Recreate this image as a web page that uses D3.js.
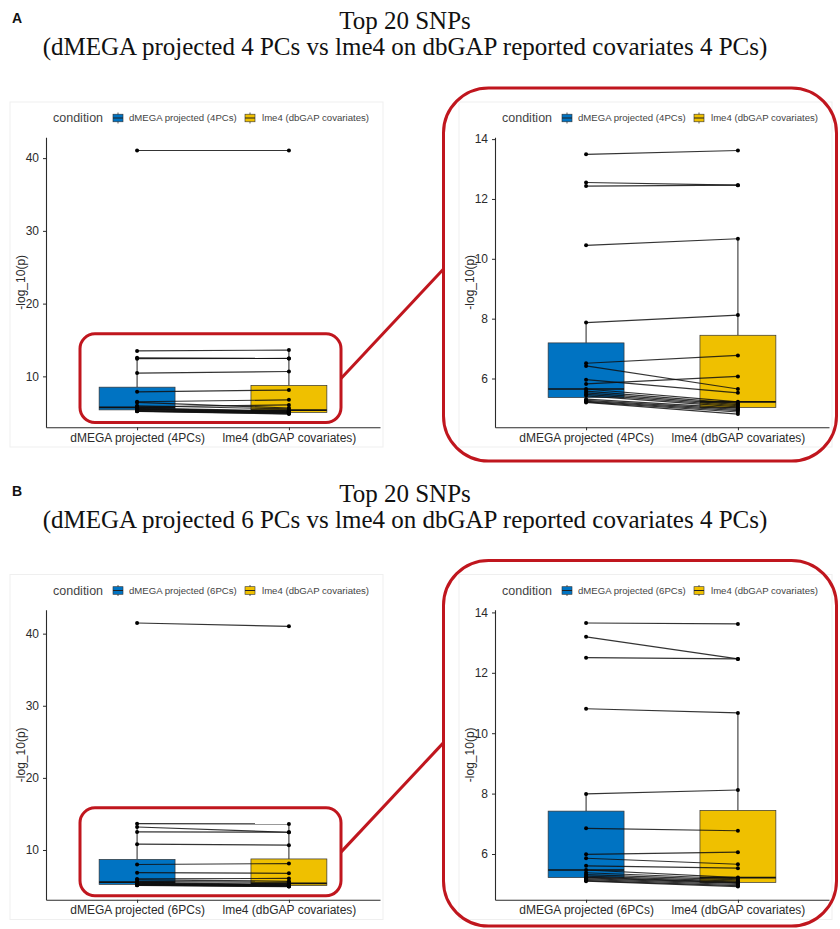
<!DOCTYPE html>
<html><head><meta charset="utf-8">
<script src="https://cdn.jsdelivr.net/npm/d3@7"></script>
<style>body{margin:0;background:#fff} svg{display:block}</style>
</head><body>
<svg id="fig" width="840" height="929"></svg>
<script>
// -log10(p) of the top 20 SNPs, one entry per SNP (same order in each pair of arrays)
const categoriesA = ["dMEGA projected (4PCs)", "lme4 (dbGAP covariates)"];
const categoriesB = ["dMEGA projected (6PCs)", "lme4 (dbGAP covariates)"];
const dmegaA = [41.05, 13.49, 12.55, 12.43, 10.45, 7.87, 6.51, 6.42, 5.96, 5.82, 5.65, 5.58, 5.52, 5.47, 5.42, 5.31, 5.27, 5.24, 5.22, 5.20];
const lme4A  = [41.05, 13.62, 12.46, 12.46, 10.67, 8.12, 6.77, 5.65, 5.52, 6.07, 5.22, 5.17, 5.13, 5.09, 5.05, 5.01, 4.97, 4.93, 4.88, 4.81];
const dmegaB = [41.48, 13.65, 13.19, 12.50, 10.81, 7.99, 6.85, 5.99, 5.86, 5.61, 5.47, 5.38, 5.32, 5.27, 5.23, 5.21, 5.18, 5.15, 5.12, 5.10];
const lme4B  = [41.02, 13.62, 12.46, 12.46, 10.67, 8.12, 6.77, 6.06, 5.66, 5.53, 5.22, 5.18, 5.14, 5.10, 5.07, 5.05, 5.03, 4.99, 4.95, 4.92];
const ticksFull = [10, 20, 30, 40];
const ticksZoom = [6, 8, 10, 12, 14];
const zoomCutoff = 20;          // the zoomed view leaves out the SNP above this value
const titleA = ["Top 20 SNPs", "(dMEGA projected 4 PCs vs lme4 on dbGAP reported covariates 4 PCs)"];
const titleB = ["Top 20 SNPs", "(dMEGA projected 6 PCs vs lme4 on dbGAP reported covariates 4 PCs)"];
const panelLetters = ["A", "B"];
const fills = ["#0073C2", "#EFC000"];

const svg = d3.select("#fig");
const SANS = "'Liberation Sans', Arial, sans-serif";
const SERIF = "'Liberation Serif', 'Times New Roman', serif";
const RED = "#c0161e";
const AXIS = "#2b2b2b";

function boxStats(vals) {
  const s = vals.slice().sort(d3.ascending);
  const q1 = d3.quantile(s, 0.25), med = d3.quantile(s, 0.5), q3 = d3.quantile(s, 0.75);
  const iqr = q3 - q1;
  const hiW = d3.max(s.filter(v => v <= q3 + 1.5 * iqr));
  const loW = d3.min(s.filter(v => v >= q1 - 1.5 * iqr));
  return {q1, med, q3, hiW, loW};
}

function drawPanel(g, o) {
  const plotL = o.left, plotR = o.left + 334, plotT = 137.3, plotB = 427.3;
  const keep = i => !o.zoom || (o.dm[i] < zoomCutoff && o.lm[i] < zoomCutoff);
  const idx = d3.range(o.dm.length).filter(keep);
  const dm = idx.map(i => o.dm[i]), lm = idx.map(i => o.lm[i]);
  const groups = [dm, lm];

  // light frame around each plot image
  g.append("rect").attr("x", plotL - 36).attr("y", 102).attr("width", 373).attr("height", 345)
    .attr("fill", "none").attr("stroke", "#efefef").attr("stroke-width", 1);

  const x = d3.scalePoint().domain(o.cats).range([plotL, plotR]).padding(0.6);
  const [lo, hi] = d3.extent(dm.concat(lm));
  const pad = (hi - lo) * 0.05;
  const y = d3.scaleLinear().domain([lo - pad, hi + pad]).range([plotB, plotT]);
  const bw = x.step() * 0.5;

  // axes
  const ya = g.append("g").attr("transform", `translate(${plotL},0)`)
    .call(d3.axisLeft(y).tickValues(o.ticks).tickSize(3).tickSizeOuter(0).tickPadding(4));
  const xa = g.append("g").attr("transform", `translate(0,${plotB})`)
    .call(d3.axisBottom(x).tickSize(3).tickSizeOuter(0).tickPadding(3));
  [ya, xa].forEach(a => {
    a.select(".domain").attr("stroke", AXIS).attr("stroke-width", 1.1);
    a.selectAll(".tick line").attr("stroke", AXIS);
    a.selectAll("text").attr("font-family", SANS).attr("font-size", 12).attr("fill", AXIS);
  });

  g.append("text").attr("transform", `translate(${plotL - 21},${(plotT + plotB) / 2}) rotate(-90)`)
    .attr("text-anchor", "middle").attr("font-family", SANS).attr("font-size", 12)
    .attr("fill", AXIS).text("-log_10(p)");

  // boxplots
  groups.forEach((vals, k) => {
    const st = boxStats(vals);
    const cx = x(o.cats[k]);
    const bg = g.append("g");
    bg.append("line").attr("x1", cx).attr("x2", cx).attr("y1", y(st.q3)).attr("y2", y(st.hiW))
      .attr("stroke", "#222").attr("stroke-width", 1);
    bg.append("line").attr("x1", cx).attr("x2", cx).attr("y1", y(st.q1)).attr("y2", y(st.loW))
      .attr("stroke", "#222").attr("stroke-width", 1);
    bg.append("rect").attr("x", cx - bw / 2).attr("y", y(st.q3)).attr("width", bw)
      .attr("height", y(st.q1) - y(st.q3)).attr("fill", fills[k]).attr("stroke", "#333").attr("stroke-width", 0.7);
    bg.append("line").attr("x1", cx - bw / 2).attr("x2", cx + bw / 2).attr("y1", y(st.med)).attr("y2", y(st.med))
      .attr("stroke", "#111").attr("stroke-width", 1.7);
  });

  // paired lines per SNP
  g.append("g").selectAll("line").data(idx).join("line")
    .attr("x1", x(o.cats[0])).attr("x2", x(o.cats[1]))
    .attr("y1", i => y(o.dm[i])).attr("y2", i => y(o.lm[i]))
    .attr("stroke", "#111").attr("stroke-opacity", 0.85).attr("stroke-width", 1.2);

  // points
  groups.forEach((vals, k) => {
    g.append("g").selectAll("circle").data(vals).join("circle")
      .attr("cx", x(o.cats[k])).attr("cy", d => y(d)).attr("r", 2).attr("fill", "#000");
  });

  // legend
  const lg = g.append("g").attr("transform", `translate(${plotL},118)`);
  lg.append("text").attr("x", 7).attr("y", 4.3).attr("font-family", SANS).attr("font-size", 12.5)
    .attr("fill", "#444").text("condition");
  const keyX = [67, 199], labX = [83, 216];
  o.cats.forEach((c, k) => {
    const kx = keyX[k];
    lg.append("line").attr("x1", kx + 5).attr("x2", kx + 5).attr("y1", -5.5).attr("y2", 5.5)
      .attr("stroke", "#333").attr("stroke-width", 0.8);
    lg.append("rect").attr("x", kx).attr("y", -3.8).attr("width", 10).attr("height", 7.6)
      .attr("fill", fills[k]).attr("stroke", "#333").attr("stroke-width", 0.6);
    lg.append("line").attr("x1", kx).attr("x2", kx + 10).attr("y1", 0).attr("y2", 0)
      .attr("stroke", "#222").attr("stroke-width", 1);
    lg.append("text").attr("x", labX[k]).attr("y", 3.4).attr("font-family", SANS).attr("font-size", 9.6)
      .attr("fill", "#444").text(c);
  });

  return {x, y};
}

function drawFigure(top, letter, title, cats, dm, lm) {
  const g = svg.append("g").attr("transform", `translate(0,${top})`);
  g.append("text").attr("x", 12).attr("y", 23).attr("font-family", SANS).attr("font-weight", "bold")
    .attr("font-size", 14).attr("fill", "#111").text(letter);
  g.append("text").attr("x", 405).attr("y", 29).attr("text-anchor", "middle")
    .attr("font-family", SERIF).attr("font-size", 25).attr("fill", "#111").text(title[0]);
  g.append("text").attr("x", 405).attr("y", 55).attr("text-anchor", "middle")
    .attr("font-family", SERIF).attr("font-size", 25).attr("fill", "#111").text(title[1]);

  const full = drawPanel(g, {left: 46, cats, dm, lm, ticks: ticksFull, zoom: false});
  drawPanel(g, {left: 495, cats, dm, lm, ticks: ticksZoom, zoom: true});

  // highlight of the zoomed range and its callout
  const yTop = full.y(15.85), yBot = full.y(3.65);
  g.append("rect").attr("x", 80).attr("y", yTop).attr("width", 261).attr("height", yBot - yTop)
    .attr("rx", 15).attr("fill", "none").attr("stroke", RED).attr("stroke-width", 3);
  const yMid = full.y(9.7);
  g.append("line").attr("x1", 341).attr("y1", yMid).attr("x2", 444).attr("y2", yMid - 110)
    .attr("stroke", RED).attr("stroke-width", 3);
  const bigBottom = letter === "A" ? 461 : 453.5;
  g.append("rect").attr("x", 443.5).attr("y", 88).attr("width", 393).attr("height", bigBottom - 88)
    .attr("rx", 45).attr("fill", "none").attr("stroke", RED).attr("stroke-width", 3);
}

drawFigure(0, panelLetters[0], titleA, categoriesA, dmegaA, lme4A);
drawFigure(472.5, panelLetters[1], titleB, categoriesB, dmegaB, lme4B);
</script>
</body></html>
